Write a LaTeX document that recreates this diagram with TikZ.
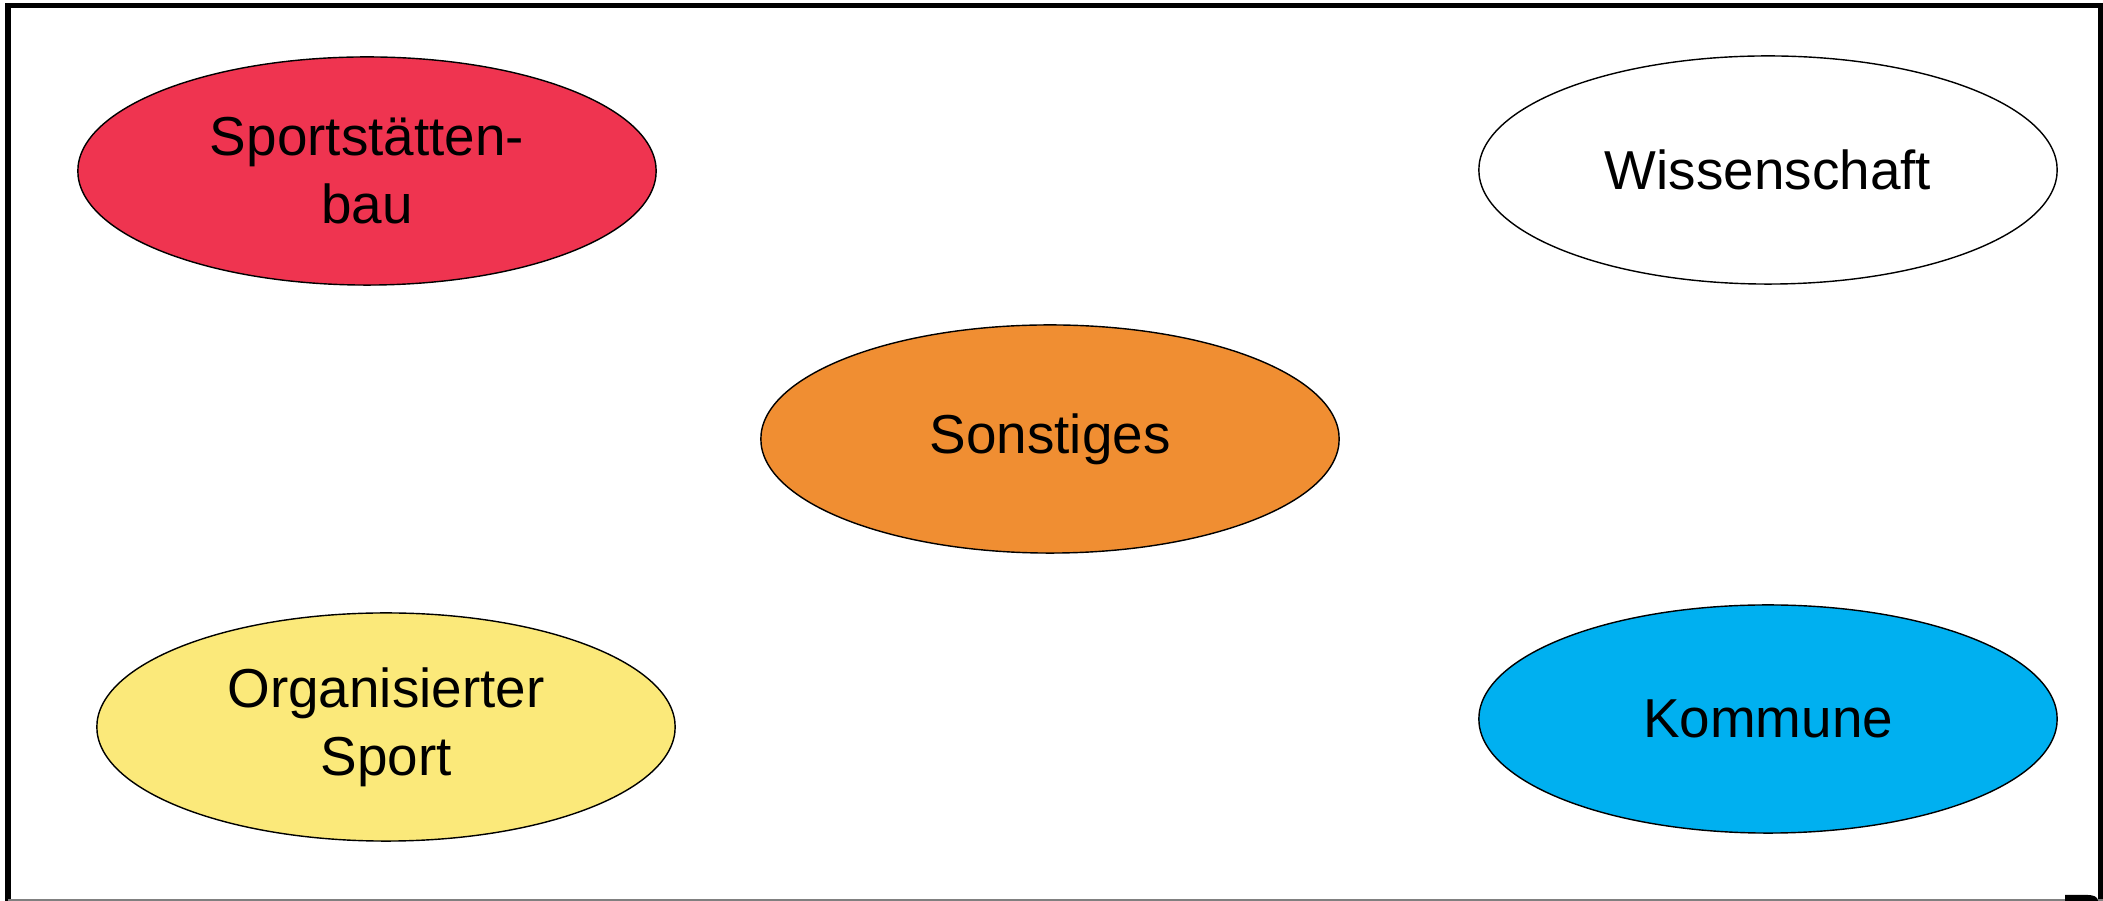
\documentclass[tikz,border=0pt]{standalone}
\usepackage{fontspec}
\setmainfont{Liberation Sans}
\usetikzlibrary{shapes.geometric}

\definecolor{baured}{RGB}{239,52,80}
\definecolor{restorange}{RGB}{240,142,50}
\definecolor{sportyellow}{RGB}{251,233,122}
\definecolor{kommblue}{RGB}{0,176,240}

\begin{document}
\begin{tikzpicture}[
    x=0.01cm, y=-0.01cm,
    field/.style={ellipse, draw, line width=0.4pt, minimum width=5.78cm, minimum height=2.28cm,
        align=center, font=\fontsize{15.6}{19.3}\selectfont, inner sep=0pt},
    frame/.style={line width=1.45pt, line cap=rect}
]
\useasboundingbox (0,0) rectangle (2103,901);

% Frame
\draw[frame] (8,901) -- (8,5.5) -- (2100.5,5.5) -- (2100.5,901);
\draw[gray, line width=0.5pt] (8,900) -- (2103,900);
\fill (2065,901) -- (2065,895) -- (2088,895) to[out=0,in=90] (2098,901) -- cycle;

% Top row
\node[field, fill=baured] (bau) at (367,171) {Sportst\"atten-\\bau};
\node[field, fill=white] (wiss) at (1768,170) {Wissenschaft};

% Middle
\node[field, fill=restorange] (sonst) at (1050,439) {Sonstiges};

% Bottom row
\node[field, fill=sportyellow] (sport) at (386,727) {Organisierter\\Sport};
\node[field, fill=kommblue] (kommune) at (1768,719) {Kommune};

\end{tikzpicture}
\end{document}
